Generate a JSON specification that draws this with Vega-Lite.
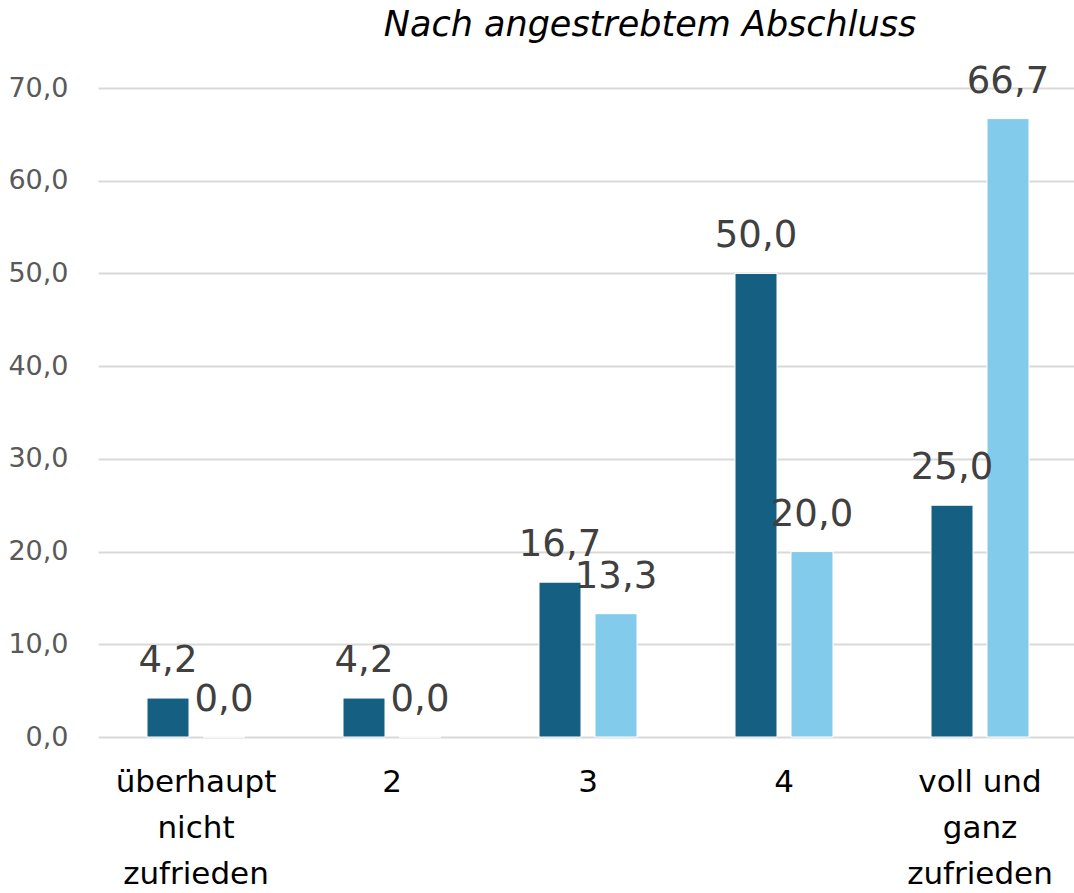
{
  "$schema": "https://vega.github.io/schema/vega-lite/v6.json",
  "autosize": {"type": "none"},
  "padding": {"left": 98, "top": 88, "right": 0, "bottom": 156},
  "width": 980,
  "height": 649,
  "background": "white",
  "title": {
    "text": "Nach angestrebtem Abschluss",
    "font": "DejaVu Sans",
    "fontStyle": "italic",
    "fontWeight": "normal",
    "fontSize": 35,
    "color": "#000000",
    "anchor": "middle",
    "dx": 62,
    "offset": 20
  },
  "data": {
    "values": [
      {"kategorie": "überhaupt nicht zufrieden", "gruppe": "A", "wert": 4.2},
      {"kategorie": "überhaupt nicht zufrieden", "gruppe": "B", "wert": 0.0},
      {"kategorie": "2", "gruppe": "A", "wert": 4.2},
      {"kategorie": "2", "gruppe": "B", "wert": 0.0},
      {"kategorie": "3", "gruppe": "A", "wert": 16.7},
      {"kategorie": "3", "gruppe": "B", "wert": 13.3},
      {"kategorie": "4", "gruppe": "A", "wert": 50.0},
      {"kategorie": "4", "gruppe": "B", "wert": 20.0},
      {"kategorie": "voll und ganz zufrieden", "gruppe": "A", "wert": 25.0},
      {"kategorie": "voll und ganz zufrieden", "gruppe": "B", "wert": 66.7}
    ]
  },
  "encoding": {
    "x": {
      "field": "kategorie",
      "type": "nominal",
      "sort": null,
      "scale": {"paddingInner": 0.5, "paddingOuter": 0.25},
      "axis": {
        "title": null,
        "labelAngle": 0,
        "domain": false,
        "ticks": false,
        "labelFont": "DejaVu Sans",
        "labelFontSize": 31,
        "labelColor": "#000000",
        "labelPadding": 30,
        "labelBaseline": "top",
        "labelLineHeight": 46,
        "labelExpr": "datum.value == 'überhaupt nicht zufrieden' ? ['überhaupt', 'nicht', 'zufrieden'] : datum.value == 'voll und ganz zufrieden' ? ['voll und', 'ganz', 'zufrieden'] : datum.value"
      }
    },
    "xOffset": {
      "field": "gruppe",
      "type": "nominal",
      "scale": {"paddingInner": 0.25, "paddingOuter": 0}
    },
    "y": {
      "field": "wert",
      "type": "quantitative",
      "scale": {"domain": [0, 70], "nice": false},
      "axis": {
        "title": null,
        "values": [0, 10, 20, 30, 40, 50, 60, 70],
        "format": ".1f",
        "domain": false,
        "ticks": false,
        "labelFont": "DejaVu Sans",
        "labelFontSize": 27,
        "labelColor": "#595959",
        "labelPadding": 30,
        "gridColor": "#d9d9d9",
        "gridWidth": 2
      }
    }
  },
  "layer": [
    {
      "mark": {"type": "bar", "stroke": "white", "strokeWidth": 1},
      "encoding": {
        "color": {
          "field": "gruppe",
          "type": "nominal",
          "scale": {"domain": ["A", "B"], "range": ["#156082", "#83CBEB"]},
          "legend": null
        }
      }
    },
    {
      "mark": {
        "type": "text",
        "font": "DejaVu Sans",
        "fontSize": 37,
        "color": "#404040",
        "baseline": "alphabetic",
        "dy": -26
      },
      "encoding": {
        "text": {"field": "wert", "type": "quantitative", "format": ".1f"}
      }
    }
  ],
  "config": {
    "view": {"stroke": null},
    "locale": {
      "number": {
        "decimal": ",",
        "thousands": ".",
        "grouping": [3],
        "currency": ["", " €"]
      }
    }
  }
}
